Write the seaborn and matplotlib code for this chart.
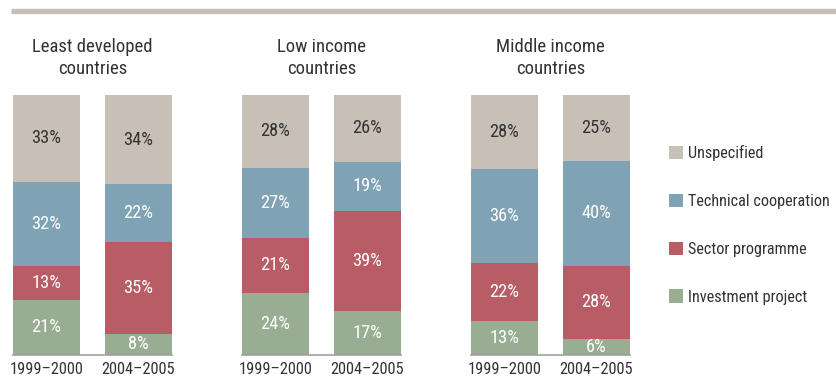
import matplotlib
matplotlib.use("Agg")
import matplotlib.pyplot as plt
from matplotlib.lines import Line2D
from matplotlib.patches import Patch
import numpy as np
import pandas as pd
import seaborn as sns

# data
groups = ["Least developed\ncountries", "Low income\ncountries", "Middle income\ncountries"]
periods = ["1999\u20132000", "2004\u20132005"]
categories = ["Investment project", "Sector programme", "Technical cooperation", "Unspecified"]
investment = [21, 8, 24, 17, 13, 6]
sector = [13, 35, 21, 39, 22, 28]
technical = [32, 22, 27, 19, 36, 40]
unspecified = [33, 34, 28, 26, 28, 25]

colors = {
    "Investment project": "#98ad92",
    "Sector programme": "#b85c66",
    "Technical cooperation": "#7fa3b5",
    "Unspecified": "#c8bfb6",
}
label_colors = {
    "Investment project": "white",
    "Sector programme": "white",
    "Technical cooperation": "white",
    "Unspecified": "#333333",
}

sns.set_style("white")
plt.rcParams["font.family"] = ["Liberation Sans Narrow", "Roboto Condensed", "DejaVu Sans"]
text_color = "#333333"

rows = []
values = dict(zip(categories, [investment, sector, technical, unspecified]))
for i, (g, p) in enumerate([(g, p) for g in groups for p in periods]):
    for cat in categories:
        rows.append({"group": g, "period": p, "category": cat, "value": values[cat][i]})
df = pd.DataFrame(rows)
# bars are drawn as full-height columns, so share of each bar's own total
df["share"] = df["value"] / df.groupby(["group", "period"])["value"].transform("sum") * 100
df["top"] = df.groupby(["group", "period"])["share"].cumsum()
df["bottom"] = df["top"] - df["share"]

fig = plt.figure(figsize=(8.36, 3.79), dpi=100)
W, H = 836, 379

# top rule
fig.add_artist(Line2D([11 / W, 1.0], [1 - 11 / H, 1 - 11 / H], color="#c8bfb4", lw=3.8,
                      transform=fig.transFigure, solid_capstyle="butt"))

bar_w = 67 / 92
for k, g in enumerate(groups):
    left = (13 + 229 * k) / W
    ax = fig.add_axes([left, (H - 355) / H, 159 / W, 260 / H])
    sub = df[df["group"] == g]
    # draw cumulative totals from the top category down so each shows its own slice
    for cat in categories[::-1]:
        part = sub[sub["category"] == cat]
        sns.barplot(data=part, x="period", y="top", order=periods, color=colors[cat],
                    width=bar_w, ax=ax, saturation=1, errorbar=None, linewidth=0)
    for _, r in sub.iterrows():
        xi = periods.index(r["period"])
        ax.text(xi, (r["top"] + r["bottom"]) / 2, f"{r['value']}%", ha="center", va="center",
                color=label_colors[r["category"]], fontsize=13.2)
    ax.set_xlim(-bar_w / 2, 1 + bar_w / 2)
    ax.set_ylim(0, 100)
    ax.set_xlabel("")
    ax.set_ylabel("")
    ax.set_yticks([])
    ax.tick_params(axis="x", length=0, pad=5, labelsize=11.8, labelcolor=text_color)
    for s in ["top", "left", "right"]:
        ax.spines[s].set_visible(False)
    ax.spines["bottom"].set_color("#a0a0a0")
    ax.spines["bottom"].set_linewidth(1.2)
    ax.text(0.5, 1.0 + 37 / 260, g, transform=ax.transAxes, ha="center", va="center",
            fontsize=13.5, color=text_color, linespacing=1.25)

handles = [Patch(facecolor=colors[c], edgecolor="none") for c in categories[::-1]]
fig.legend(handles, categories[::-1], loc="center left", bbox_to_anchor=(662 / W, 1 - 225 / H),
           frameon=False, fontsize=11.7, labelcolor=text_color, handlelength=0.9,
           handleheight=0.9, handletextpad=0.3, labelspacing=2.0, borderaxespad=0)

fig.savefig("out.png", dpi=100)
